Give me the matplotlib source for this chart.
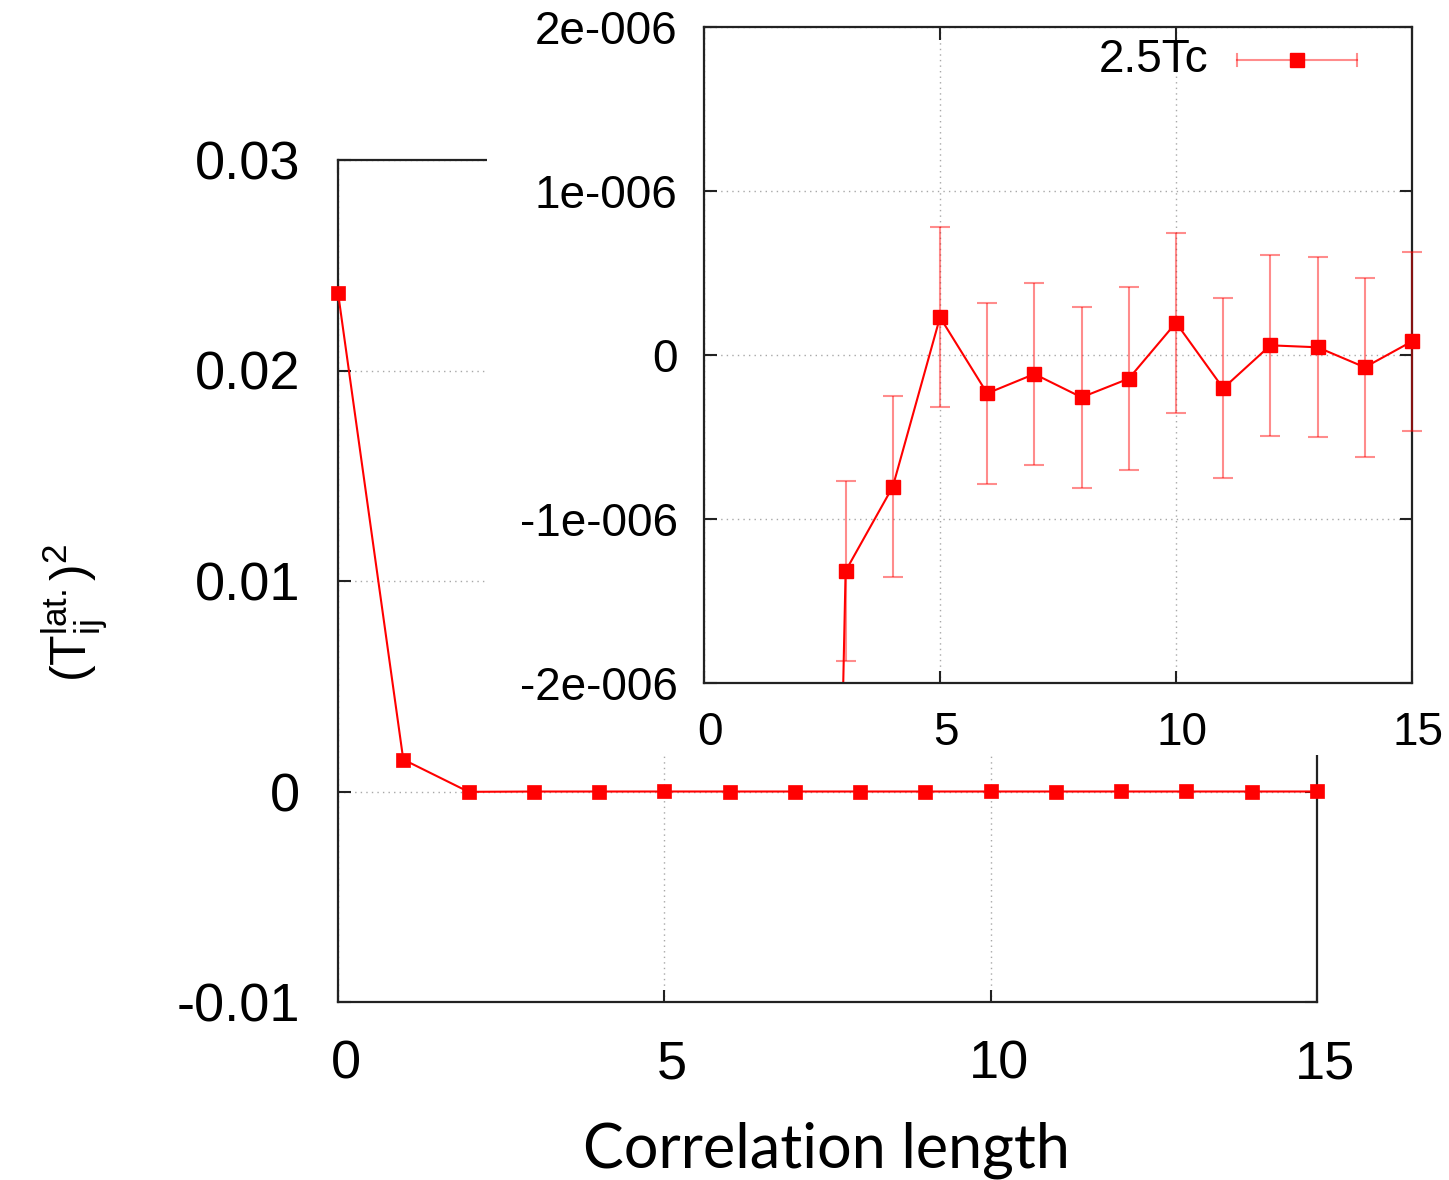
import matplotlib
matplotlib.use("Agg")
import matplotlib.pyplot as plt
import matplotlib.transforms as mtransforms
from matplotlib.patches import Rectangle

plt.rcParams['font.family'] = ['Liberation Sans', 'DejaVu Sans']
plt.rcParams['mathtext.fontset'] = 'custom'
plt.rcParams['mathtext.rm'] = 'Liberation Sans'
plt.rcParams['mathtext.it'] = 'Liberation Sans'

# data
corr_len = [0, 1, 2, 3, 4, 5, 6, 7, 8, 9, 10, 11, 12, 13, 14, 15]
t_sq = [0.0237, 0.00152, -1.5e-05, -1.317e-06, -0.803e-06, 0.230e-06, -0.234e-06,
        -0.116e-06, -0.258e-06, -0.144e-06, 0.197e-06, -0.203e-06, 0.059e-06,
        0.047e-06, -0.075e-06, 0.083e-06]
t_err = [0.55e-06, 0.55e-06, 0.55e-06, 0.55e-06, 0.55e-06, 0.55e-06, 0.55e-06,
         0.552e-06, 0.553e-06, 0.557e-06, 0.549e-06, 0.55e-06, 0.552e-06,
         0.55e-06, 0.547e-06, 0.548e-06]

main_xticks = [0, 5, 10, 15]
main_yticks = [-0.01, 0, 0.01, 0.02, 0.03]
main_ylabels = ["-0.01", "0", "0.01", "0.02", "0.03"]
inset_yticks = [-2e-06, -1e-06, 0, 1e-06, 2e-06]
inset_ylabels = ["-2e-006", "-1e-006", "0", "1e-006", "2e-006"]
series_name = "2.5Tc"

RED = "#ff0000"
GRIDCOL = "#a8a8a8"


def StyleAxes(ax, size):
    for sp in ax.spines.values():
        sp.set_linewidth(1.6)
        sp.set_color("#222222")
    ax.tick_params(direction="in", length=9, width=1.5, labelsize=size,
                   top=True, right=True, colors="#222222", labelcolor="black")
    ax.grid(True, linestyle=(0, (1, 3)), color=GRIDCOL, linewidth=1.0)
    ax.set_axisbelow(True)


def ShiftXLabels(fig, ax, dx_px):
    off = mtransforms.ScaledTranslation(dx_px / 100.0, 0, fig.dpi_scale_trans)
    for lab in ax.get_xticklabels():
        lab.set_transform(lab.get_transform() + off)


fig = plt.figure(figsize=(14.49, 11.8), dpi=100)

# ---- main plot ----
ax = fig.add_axes([338/1449, 1-1002/1180, (1317-338)/1449, (1002-160)/1180])
ax.set_zorder(0)
StyleAxes(ax, 39)
ax.plot(corr_len, t_sq, color=RED, lw=1.5, marker="s", ms=10, mec=RED, mew=0.5,
        clip_on=False, zorder=5)
ax.set_xlim(0, 15)
ax.set_ylim(-0.01, 0.03)
ax.set_xticks(main_xticks)
ax.set_yticks(main_yticks)
ax.set_yticklabels(main_ylabels)
ax.tick_params(axis="x", pad=27)
ax.tick_params(axis="y", pad=27)
ShiftXLabels(fig, ax, 8)

fig.text(826/1449, 1-1150/1180, "Correlation length", family="Lato",
         fontsize=44, ha="center", va="center")
fig.text(76/1449, 1-613/1180, r"$(\mathrm{T}_{\mathrm{ij}}^{\mathrm{lat.}})^{2}$",
         fontsize=36, rotation=90, ha="center", va="center")

# white block behind the inset (covers main frame and its labels)
fig.patches.append(Rectangle((487/1449, 1-755/1180), 1-487/1449, 755/1180,
                             transform=fig.transFigure, facecolor="white",
                             edgecolor="none", zorder=1))

# ---- inset ----
ins = fig.add_axes([704/1449, 1-683/1180, (1412-704)/1449, (683-27)/1180])
ins.set_zorder(2)
StyleAxes(ins, 33)
ins.plot(corr_len[2:4], t_sq[2:4], color=RED, lw=1.5)
ins.errorbar(corr_len[3:], t_sq[3:], yerr=t_err[3:], color=RED, lw=1.5,
             marker="s", ms=10, mec=RED, ecolor=(1, 0, 0, 0.45), elinewidth=1.5,
             capsize=7, capthick=1.5, clip_on=False, zorder=5)
ins.set_xlim(0, 15)
ins.set_ylim(-2e-06, 2e-06)
ins.set_xticks(main_xticks)
ins.set_yticks(inset_yticks)
ins.set_yticklabels(inset_ylabels)
ins.tick_params(axis="x", pad=20)
ins.tick_params(axis="y", pad=19)
ShiftXLabels(fig, ins, 6)

# legend key drawn like gnuplot's horizontal sample
ins.text(0.712, 0.950, series_name, transform=ins.transAxes, fontsize=33,
         ha="right", va="center")
ins.plot([0.753, 0.922], [0.950, 0.950], transform=ins.transAxes, color=RED,
         alpha=0.45, lw=1.5)
for cx in [0.753, 0.922]:
    ins.plot([cx, cx], [0.941, 0.959], transform=ins.transAxes, color=RED,
             alpha=0.45, lw=1.5)
ins.plot([0.837], [0.950], transform=ins.transAxes, color=RED, marker="s",
         ms=10, mec=RED)

fig.savefig("out.png", dpi=100)
